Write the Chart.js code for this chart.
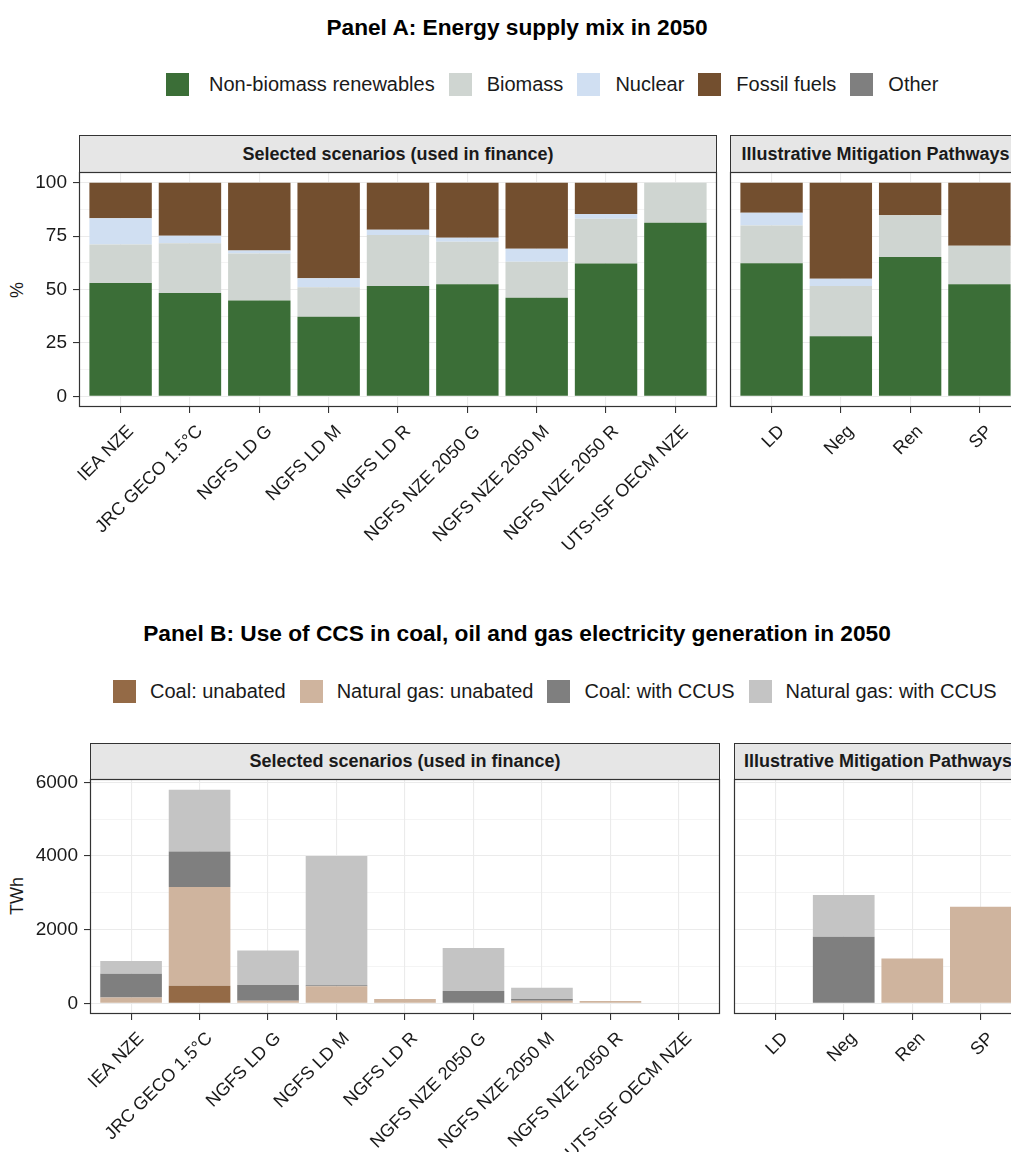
<!DOCTYPE html>
<html>
<head>
<meta charset="utf-8">
<script src="https://cdn.jsdelivr.net/npm/chart.js@4.4.1/dist/chart.umd.min.js"></script>
<style>
  html, body { margin: 0; padding: 0; background: #fff; }
  body {
    width: 1011px; height: 1152px; overflow: hidden; position: relative;
    font-family: 'Liberation Sans', Arial, Helvetica, sans-serif; color: #1a1a1a;
  }
  .title {
    position: absolute; left: 0; width: 1034px; text-align: center;
    font-weight: bold; font-size: 22.7px; line-height: 26px; color: #000;
  }
  .legend {
    position: absolute; display: flex; align-items: center; height: 23px;
    font-size: 20px; white-space: nowrap; color: #1a1a1a;
  }
  .legend .key { width: 23px; height: 23px; flex: none; }
  .strip {
    position: absolute; box-sizing: border-box; border: 1px solid #333; background: #e6e6e6;
    display: flex; align-items: center; justify-content: center;
    font-weight: bold; font-size: 18px; white-space: nowrap; overflow: hidden; color: #1a1a1a;
  }
  .ytitle {
    position: absolute; font-size: 18px; white-space: nowrap; color: #1a1a1a;
    transform: translate(-50%, -50%) rotate(-90deg);
  }
  canvas { position: absolute; }
</style>
</head>
<body>

<div class="title" style="top:14px">Panel A: Energy supply mix in 2050</div>
<div class="legend" id="legendA" style="left:166px; top:73px"></div>
<div class="strip" style="left:79px; top:135px; width:638px; height:38px">Selected scenarios (used in finance)</div>
<div class="strip" style="left:730px; top:135px; width:291px; height:38px">Illustrative Mitigation Pathways</div>
<div class="ytitle" style="left:17px; top:290px">%</div>
<canvas id="mixSel" width="724" height="408" style="left:0px; top:152px; width:724px; height:408px"></canvas>
<canvas id="mixImp" width="310" height="400" style="left:720px; top:160px; width:310px; height:400px"></canvas>

<div class="title" style="top:620px">Panel B: Use of CCS in coal, oil and gas electricity generation in 2050</div>
<div class="legend" id="legendB" style="left:113px; top:680px"></div>
<div class="strip" style="left:90px; top:743px; width:630px; height:37px">Selected scenarios (used in finance)</div>
<div class="strip" style="left:734px; top:743px; width:288px; height:37px">Illustrative Mitigation Pathways</div>
<div class="ytitle" style="left:17px; top:896px">TWh</div>
<canvas id="ccsSel" width="730" height="393" style="left:0px; top:759px; width:730px; height:393px"></canvas>
<canvas id="ccsImp" width="310" height="385" style="left:724px; top:767px; width:310px; height:385px"></canvas>

<script>
// ---- Scenarios ----
const selectedScenarios = [
  'IEA NZE', 'JRC GECO 1.5°C', 'NGFS LD G', 'NGFS LD M', 'NGFS LD R',
  'NGFS NZE 2050 G', 'NGFS NZE 2050 M', 'NGFS NZE 2050 R', 'UTS-ISF OECM NZE'
];
const impScenarios = ['LD', 'Neg', 'Ren', 'SP'];

// ---- Panel A: energy supply mix in 2050 (% of total) ----
const mixSeriesNames = ['Non-biomass renewables', 'Biomass', 'Nuclear', 'Fossil fuels', 'Other'];
const renewablesSel = [53.1, 48.4, 44.8, 37.2, 51.6, 52.5, 46.1, 62.2, 81.3];
const biomassSel    = [18.0, 23.2, 22.1, 13.9, 23.9, 19.8, 16.9, 20.9, 18.7];
const nuclearSel    = [12.3,  3.6,  1.4,  4.2,  2.5,  1.9,  6.1,  2.2,  0.0];
const fossilSel     = [16.6, 24.8, 31.7, 44.7, 22.0, 25.8, 30.9, 14.7,  0.0];
const otherSel      = [ 0.0,  0.0,  0.0,  0.0,  0.0,  0.0,  0.0,  0.0,  0.0];
const renewablesImp = [62.3, 28.1, 65.2, 52.5];
const biomassImp    = [17.7, 23.5, 19.6, 18.0];
const nuclearImp    = [ 5.9,  3.4,  0.0,  0.0];
const fossilImp     = [14.1, 45.0, 15.2, 29.5];
const otherImp      = [ 0.0,  0.0,  0.0,  0.0];
const pctTicks = [0, 25, 50, 75, 100];

// ---- Panel B: coal and gas power generation in 2050 (TWh) ----
const ccsSeriesNames = ['Coal: unabated', 'Natural gas: unabated', 'Coal: with CCUS', 'Natural gas: with CCUS'];
const coalUnabatedSel = [  0,  480,   0,    0,   0,    0,   0,  0, 0];
const gasUnabatedSel  = [160, 2675,  70,  460, 118,    0,  72, 63, 0];
const coalCcusSel     = [645,  965, 425,   28,   0,  335,  46,  0, 0];
const gasCcusSel      = [345, 1680, 940, 3510,   0, 1165, 307,  0, 0];
const coalUnabatedImp = [0,    0,    0,    0];
const gasUnabatedImp  = [0,    0, 1220, 2622];
const coalCcusImp     = [0, 1808,    0,    0];
const gasCcusImp      = [0, 1130,    0,    0];
const twhTicks = [0, 2000, 4000, 6000];

// ---- Styling ----
const mixColours = ['#3b6e37', '#cfd5d1', '#d0dff2', '#734f2f', '#7f7f7f'];
const ccsColours = ['#946a46', '#cfb49e', '#7f7f7f', '#c4c4c4'];
const FONT = "'Liberation Sans', Arial, Helvetica, sans-serif";
Chart.defaults.font.family = FONT;
Chart.defaults.color = '#1a1a1a';

function buildLegend(el, names, colours, firstKeyGap, keyGap, itemGap) {
  names.forEach((name, k) => {
    const key = document.createElement('span');
    key.className = 'key';
    key.style.background = colours[k];
    key.style.marginRight = (k === 0 ? firstKeyGap : keyGap) + 'px';
    if (k > 0) key.style.marginLeft = itemGap + 'px';
    const txt = document.createElement('span');
    txt.textContent = name;
    el.appendChild(key);
    el.appendChild(txt);
  });
}
buildLegend(document.getElementById('legendA'), mixSeriesNames, mixColours, 20, 15, 14);
buildLegend(document.getElementById('legendB'), ccsSeriesNames, ccsColours, 14, 14, 14);

// Dark frame around each facet, drawn over the bars
const panelBorder = {
  id: 'panelBorder',
  afterDatasetsDraw(chart) {
    const a = chart.chartArea, ctx = chart.ctx;
    ctx.save();
    ctx.strokeStyle = '#333';
    ctx.lineWidth = 1.2;
    ctx.strokeRect(a.left + 0.5, a.top + 0.5, a.right - a.left - 1, a.bottom - a.top - 1);
    ctx.restore();
  }
};

function facetChart(id, cats, series, names, colours, yRangeSeries, majorTicks, cfg) {
  // y range: full stacked extent with 5% expansion on both sides
  const totals = [];
  yRangeSeries.forEach(group => {
    group[0].forEach((_, i) => totals.push(group.reduce((s, v) => s + v[i], 0)));
  });
  const top = Math.max(...totals);
  const yMin = -0.05 * top, yMax = 1.05 * top;
  const step = majorTicks[1] - majorTicks[0];
  const yTicks = [];
  majorTicks.forEach((v, k) => {
    yTicks.push(v);
    if (k < majorTicks.length - 1) yTicks.push(v + step / 2);
  });
  const isMajor = v => majorTicks.includes(v);

  return new Chart(document.getElementById(id), {
    type: 'bar',
    data: {
      datasets: series.map((vals, k) => ({
        label: names[k],
        data: vals.map((v, i) => ({ x: i + 1, y: v })),
        backgroundColor: colours[k],
        borderWidth: 0,
        barPercentage: 0.9,
        categoryPercentage: 1
      }))
    },
    options: {
      responsive: false,
      animation: false,
      devicePixelRatio: 1,
      layout: { padding: cfg.padding },
      plugins: { legend: { display: false }, tooltip: { enabled: false } },
      scales: {
        x: {
          type: 'linear', stacked: true, bounds: 'data', offset: false,
          min: 0.4, max: cats.length + 0.6,
          afterBuildTicks: s => { s.ticks = cats.map((_, i) => ({ value: i + 1 })); },
          afterFit: s => { s.height = cfg.xHeight; },
          ticks: {
            autoSkip: false, maxRotation: 45, minRotation: 45, padding: 8, labelOffset: 10,
            color: '#1a1a1a', font: { size: 18 },
            callback: v => cats[Math.round(v) - 1]
          },
          grid: { offset: false, color: '#ebebeb', lineWidth: 1.1, tickLength: 6, tickColor: '#333', tickWidth: 1.1 },
          border: { display: false }
        },
        y: {
          type: 'linear', stacked: true, bounds: 'data',
          min: yMin, max: yMax,
          afterBuildTicks: s => { s.ticks = yTicks.map(v => ({ value: v })); },
          afterFit: s => { s.width = cfg.yWidth; },
          ticks: {
            display: cfg.showY, padding: 6, color: '#1a1a1a', font: { size: 19 },
            callback: v => isMajor(v) ? String(v) : ''
          },
          grid: {
            color: '#ebebeb',
            lineWidth: c => (c.tick && isMajor(c.tick.value)) ? 1.1 : 0.55,
            drawTicks: cfg.showY, tickLength: 6, tickWidth: 1.1,
            tickColor: c => (c.tick && isMajor(c.tick.value)) ? '#333' : 'rgba(0,0,0,0)'
          },
          border: { display: false }
        }
      }
    },
    plugins: [panelBorder]
  });
}

const mixSel = [renewablesSel, biomassSel, nuclearSel, fossilSel, otherSel];
const mixImp = [renewablesImp, biomassImp, nuclearImp, fossilImp, otherImp];
const ccsSel = [coalUnabatedSel, gasUnabatedSel, coalCcusSel, gasCcusSel];
const ccsImp = [coalUnabatedImp, gasUnabatedImp, coalCcusImp, gasCcusImp];

facetChart('mixSel', selectedScenarios, mixSel, mixSeriesNames, mixColours, [mixSel, mixImp], pctTicks,
  { padding: { top: 20, left: 0, right: 7, bottom: 0 }, yWidth: 79, xHeight: 153, showY: true });
facetChart('mixImp', impScenarios, mixImp, mixSeriesNames, mixColours, [mixSel, mixImp], pctTicks,
  { padding: { top: 12, left: 10, right: 9, bottom: 0 }, yWidth: 0, xHeight: 153, showY: false });
facetChart('ccsSel', selectedScenarios, ccsSel, ccsSeriesNames, ccsColours, [ccsSel, ccsImp], twhTicks,
  { padding: { top: 20, left: 0, right: 10, bottom: 0 }, yWidth: 90, xHeight: 138, showY: true });
facetChart('ccsImp', impScenarios, ccsImp, ccsSeriesNames, ccsColours, [ccsSel, ccsImp], twhTicks,
  { padding: { top: 12, left: 10, right: 12, bottom: 0 }, yWidth: 0, xHeight: 138, showY: false });
</script>
</body>
</html>
